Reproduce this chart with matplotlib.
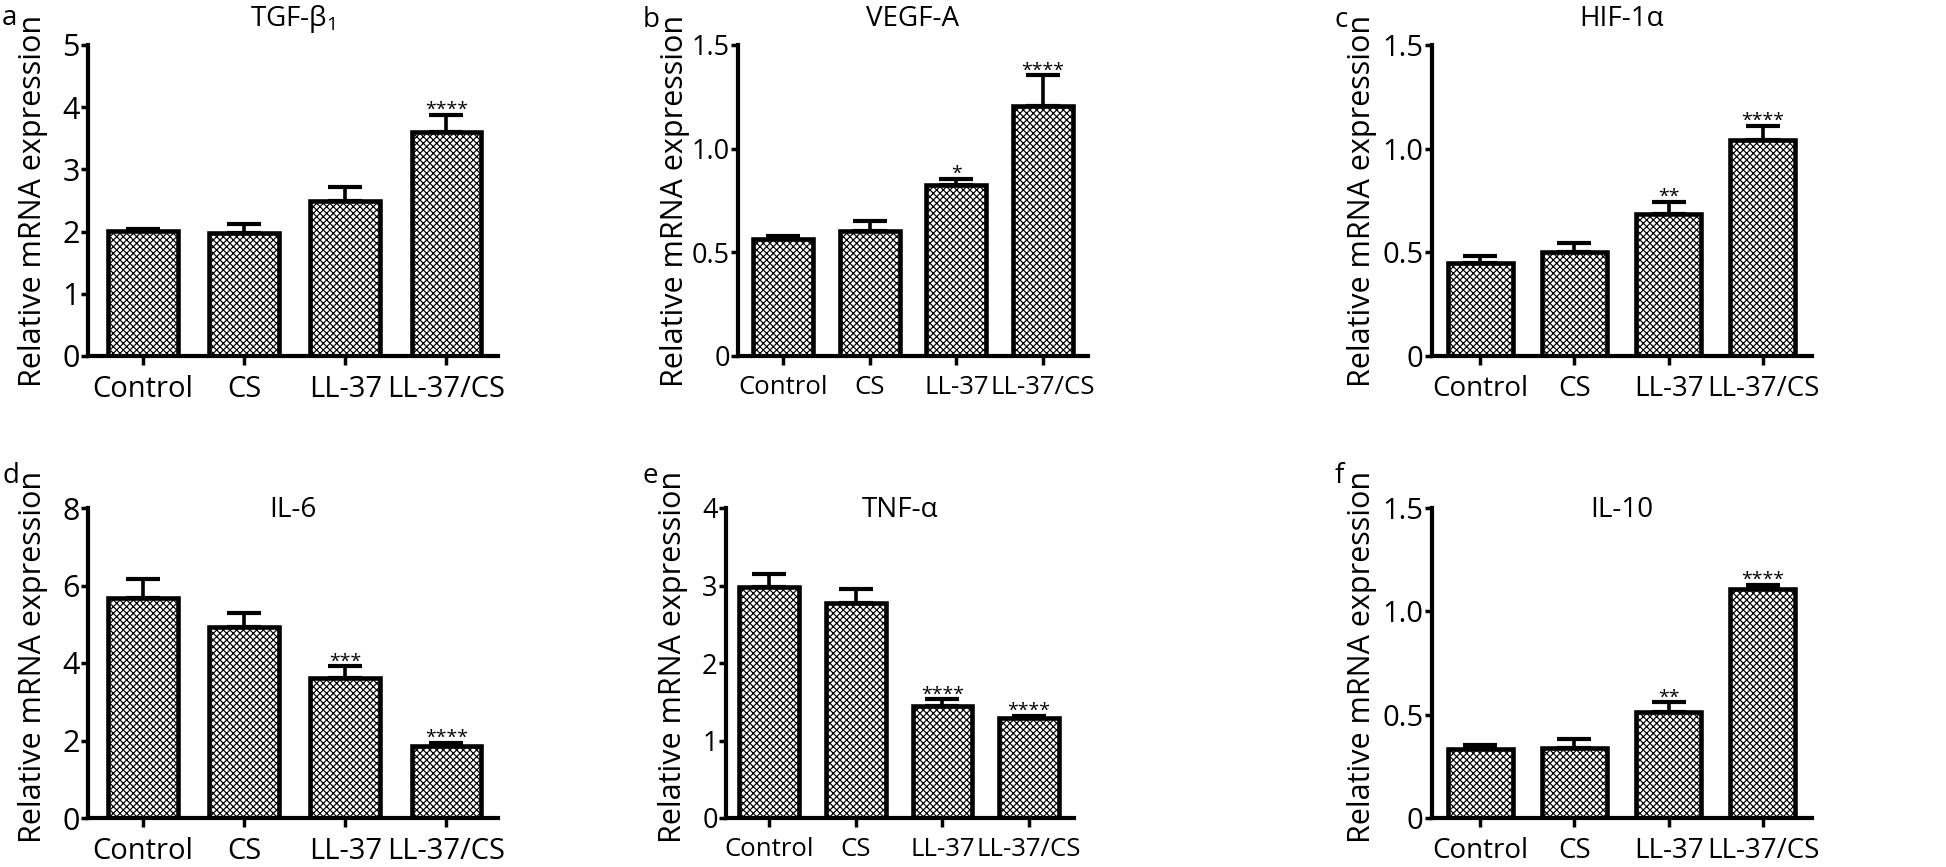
import matplotlib
matplotlib.use('Agg')
import matplotlib.pyplot as plt
import numpy as np

plt.rcParams['font.family'] = ['Open Sans', 'DejaVu Sans']
plt.rcParams['mathtext.fontset'] = 'custom'
plt.rcParams['mathtext.rm'] = 'Open Sans'
plt.rcParams['hatch.linewidth'] = 0.85
plt.rcParams['hatch.color'] = 'black'

# data
groups = ['Control', 'CS', 'LL-37', 'LL-37/CS']

tgf_mean = [2.01, 1.97, 2.49, 3.60]
tgf_err = [0.03, 0.15, 0.22, 0.27]
tgf_stars = ['', '', '', '****']

vegf_mean = [0.562, 0.602, 0.827, 1.204]
vegf_err = [0.016, 0.050, 0.029, 0.149]
vegf_stars = ['', '', '*', '****']

hif_mean = [0.447, 0.503, 0.686, 1.040]
hif_err = [0.035, 0.044, 0.058, 0.069]
hif_stars = ['', '', '**', '****']

il6_mean = [5.68, 4.94, 3.61, 1.87]
il6_err = [0.48, 0.36, 0.30, 0.06]
il6_stars = ['', '', '***', '****']

tnf_mean = [2.98, 2.77, 1.44, 1.29]
tnf_err = [0.17, 0.19, 0.09, 0.03]
tnf_stars = ['', '', '****', '****']

il10_mean = [0.333, 0.341, 0.512, 1.106]
il10_err = [0.019, 0.040, 0.047, 0.021]
il10_stars = ['', '', '**', '****']

W, H = 1946, 867
fig = plt.figure(figsize=(W / 100, H / 100), dpi=100)

# letter, title, means, errors, stars, yticks, yticklabels,
# axes box in pixels (left, right, top, bottom), xlim, ylabel x (px), title inside?, tick font size
panels = [
    ('a', 'TGF-β$_\\mathregular{1}$', tgf_mean, tgf_err, tgf_stars, [0, 1, 2, 3, 4, 5], ['0', '1', '2', '3', '4', '5'],
     (88, 498, 45, 356), (-0.545, 3.51), 48, False, 21),
    ('b', 'VEGF-A', vegf_mean, vegf_err, vegf_stars, [0, 0.5, 1.0, 1.5], ['0', '0.5', '1.0', '1.5'],
     (738, 1088, 45, 356), (-0.52, 3.52), 690, False, 18.5),
    ('c', 'HIF-1α', hif_mean, hif_err, hif_stars, [0, 0.5, 1.0, 1.5], ['0', '0.5', '1.0', '1.5'],
     (1432, 1812, 45, 356), (-0.51, 3.52), 1377, False, 20),
    ('d', 'IL-6', il6_mean, il6_err, il6_stars, [0, 2, 4, 6, 8], ['0', '2', '4', '6', '8'],
     (88, 498, 508, 818), (-0.545, 3.51), 48, True, 21),
    ('e', 'TNF-α', tnf_mean, tnf_err, tnf_stars, [0, 1, 2, 3, 4], ['0', '1', '2', '3', '4'],
     (726, 1074, 508, 818), (-0.5, 3.52), 688, True, 18.5),
    ('f', 'IL-10', il10_mean, il10_err, il10_stars, [0, 0.5, 1.0, 1.5], ['0', '0.5', '1.0', '1.5'],
     (1432, 1812, 508, 818), (-0.51, 3.52), 1377, True, 20),
]

letter_pos = {'a': (2, 25), 'b': (643, 27), 'c': (1334, 27),
              'd': (2, 483), 'e': (642, 483), 'f': (1335, 483)}

x = np.arange(len(groups))
for letter, title, mean, err, stars, yt, ytl, box, xlim, ylab_x, inside, fs in panels:
    l, r, t, b = box
    ax = fig.add_axes([l / W, 1 - b / H, (r - l) / W, (b - t) / H])
    ax.bar(x, mean, width=0.69, color='white', edgecolor='black', linewidth=3.3,
           hatch='xxxxx', zorder=2)
    ax.errorbar(x, mean, yerr=[np.zeros(len(err)), err], fmt='none', ecolor='black',
                elinewidth=2.6, capsize=12.5, capthick=3, zorder=1)
    for i, s in enumerate(stars):
        if s:
            ax.annotate(s, (x[i], mean[i] + err[i]), xytext=(0, 0), textcoords='offset points',
                        ha='center', va='baseline', fontsize=14)
    ax.set_xlim(*xlim)
    ax.set_ylim(yt[0], yt[-1])
    ax.set_yticks(yt)
    ax.set_yticklabels(ytl, fontsize=fs + 1)
    ax.set_xticks(x)
    ax.set_xticklabels(groups, fontsize=fs)
    ax.tick_params(axis='x', length=6.5, width=2.5, pad=7)
    ax.tick_params(axis='y', length=5, width=2.5, pad=1)
    for side in ['top', 'right']:
        ax.spines[side].set_visible(False)
    for side in ['left', 'bottom']:
        ax.spines[side].set_linewidth(3)
        ax.spines[side].set_capstyle('projecting')
    ax.set_ylabel('Relative mRNA expression', fontsize=22)
    if inside:
        ax.yaxis.set_label_coords((ylab_x - l) / (r - l), 0.52)
        ty = 1 - 9 / (b - t)
    else:
        ax.yaxis.set_label_coords((ylab_x - l) / (r - l), 0.5)
        ty = 1 + 19 / (b - t)
    ax.text(0.5, ty, title, transform=ax.transAxes, ha='center', va='baseline', fontsize=20)
    lx, ly = letter_pos[letter]
    fig.text(lx / W, 1 - ly / H, letter, ha='left', va='baseline', fontsize=20)

fig.savefig('out.png', dpi=100)
